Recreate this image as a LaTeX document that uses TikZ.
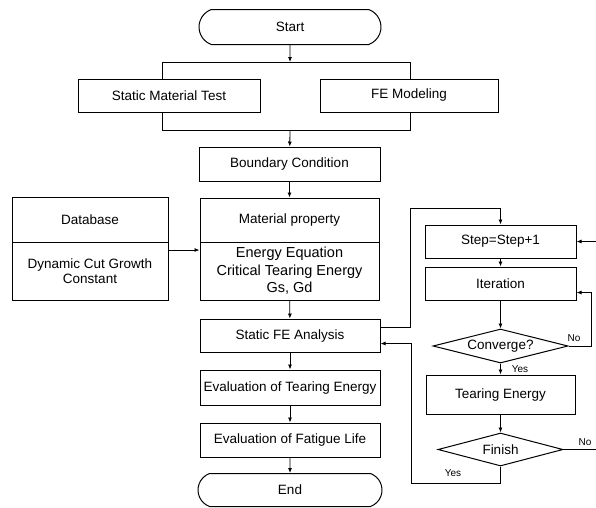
\documentclass[tikz,border=0pt]{standalone}
\usepackage{fontspec}
\setmainfont{Liberation Sans}
\usepackage{tikz}
\usetikzlibrary{shapes, arrows.meta}

\begin{document}
\begin{tikzpicture}[x=1pt, y=-1pt, font=\fontsize{13.5}{15}\selectfont,
        box/.style={rectangle, draw, line width=1pt, inner sep=0pt, align=center},
        term/.style={rounded rectangle, rounded rectangle arc length=140, draw, line width=1pt, inner sep=0pt},
        ask/.style={diamond, draw, line width=1pt, aspect=4, inner sep=0pt},
        flow/.style={line width=0.8pt, -{Latex[length=5pt, width=4pt]}},
        link/.style={line width=0.8pt},
        tag/.style={font=\fontsize{10}{11}\selectfont, inner sep=0pt}]
        \useasboundingbox (0, 0) rectangle (596, 507);

        % main column
        \node[term, minimum width=182pt, minimum height=35pt] at (290, 27) (start) {Start};
        \node[box, minimum width=182pt, minimum height=33pt] at (169, 95.5) (smt) {Static Material Test};
        \node[box, minimum width=178pt, minimum height=33pt] at (409, 95.5) (fem) {FE Modeling};
        \node[box, minimum width=181pt, minimum height=34pt] at (289.5, 164) (bc) {Boundary Condition};
        \node[box, minimum width=179pt, minimum height=44pt] at (289.5, 220) (matprop) {Material property};
        \node[box, minimum width=179pt, minimum height=58pt, font=\fontsize{14.5}{17.5}\selectfont] at (289.5, 271) (mateq) {Energy Equation\\Critical Tearing Energy\\Gs, Gd};
        \node[box, minimum width=180pt, minimum height=33pt] at (290, 335.5) (sfa) {Static FE Analysis};
        \node[box, minimum width=180pt, minimum height=35pt] at (290, 387.5) (evt) {Evaluation of Tearing Energy};
        \node[box, minimum width=180pt, minimum height=34pt] at (290, 440) (evf) {Evaluation of Fatigue Life};
        \node[term, minimum width=184pt, minimum height=33pt] at (290, 490) (end) {End};

        % database
        \node[box, minimum width=156pt, minimum height=45pt] at (90, 219.5) (dbhead) {Database};
        \node[box, minimum width=156pt, minimum height=58pt] at (90, 271) (dbbody) {Dynamic Cut Growth\\Constant};

        % iteration loop
        \node[box, minimum width=151pt, minimum height=33pt] at (500.5, 241.5) (stepinc) {Step=Step+1};
        \node[box, minimum width=151pt, minimum height=33pt] at (500.5, 283.5) (iter) {Iteration};
        \node[ask, minimum width=135pt, minimum height=34pt] at (500.5, 346) (conv) {Converge?};
        \node[box, minimum width=149pt, minimum height=39pt] at (500.5, 394.5) (tear) {Tearing Energy};
        \node[ask, minimum width=125pt, minimum height=33pt] at (500.5, 449.5) (fin) {Finish};

        \node[tag] at (574, 338) (noa) {No};
        \node[tag] at (520, 369) (yesa) {Yes};
        \node[tag] at (585, 442) (nob) {No};
        \node[tag] at (453, 473) (yesb) {Yes};

        \coordinate (split) at (290, 62);
        \coordinate (tl) at (162, 62);
        \coordinate (tr) at (410, 62);
        \coordinate (bl) at (162, 130);
        \coordinate (br) at (410, 130);
        \coordinate (merge) at (290, 130);
        \coordinate (loopup) at (410, 208);
        \coordinate (loopdn) at (411, 483);
        \coordinate (noconv) at (591, 346);
        \coordinate (nofin) at (600, 449.5);

        \draw[flow] (start) -- (split);
        \draw[link] (smt.north -| tl) -- (tl) -- (tr) -- (fem.north -| tr)
            (smt.south -| bl) -- (bl) -- (br) -- (fem.south -| br);
        \draw[flow] (merge) -- (bc);
        \draw[flow] (bc) -- (matprop);
        \draw[flow] ([yshift=21pt]dbbody.east) -- ([yshift=21pt]mateq.west);
        \draw[flow] (mateq) -- (sfa);
        \draw[flow] (sfa) -- (evt);
        \draw[flow] (evt) -- (evf);
        \draw[flow] (evf) -- (end);

        \draw[flow] ([yshift=8pt]sfa.east) -| (loopup) -| (stepinc.north);
        \draw[flow] (stepinc) -- (iter);
        \draw[flow] (iter) -- (conv);
        \draw[flow] (conv.east) -- (noconv) |- ([yshift=-9pt]iter.east);
        \draw[flow] (conv) -- (tear);
        \draw[flow] (tear) -- (fin);
        \draw[flow] (fin.east) -- (nofin) |- (stepinc.east);
        \draw[flow] (fin.south) |- (loopdn) |- ([yshift=-8pt]sfa.east);
    \end{tikzpicture}
\end{document}
